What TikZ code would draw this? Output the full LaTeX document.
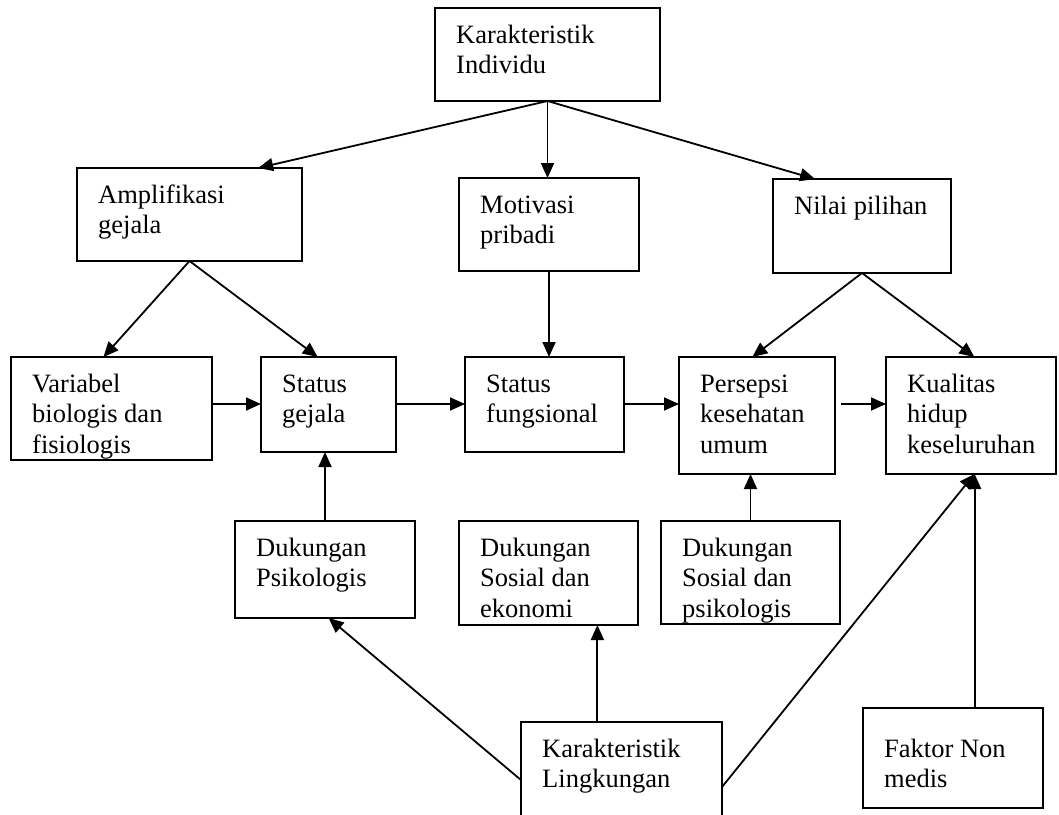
\documentclass[tikz,border=0pt]{standalone}
\usepackage{fontspec}
\setmainfont{Liberation Serif}
\usetikzlibrary{arrows.meta,calc,fit}
\newcommand\mkbox[7]{%
  \node[box,fit={(#2,#3)(#4,#5)}] (#1) {};
  \node[txt] (#1-t) at ($(#1.north west)+(21,#7)$) {\strut #6};}
\begin{document}
\begin{tikzpicture}[x=1pt,y=-1pt,
  box/.style={draw,line width=1.8pt,inner sep=0pt,outer sep=0pt,rectangle},
  txt/.style={anchor=north west,inner sep=0pt,align=left,font=\fontsize{26.5}{30.5}\selectfont},
  arr/.style={line width=1.8pt,-{Triangle[length=15pt,width=13pt]}}]
\useasboundingbox (0,0) rectangle (1059,814);
\mkbox{ki}{435}{8}{660}{101}{Karakteristik\\Individu}{13.6}
\mkbox{amp}{77}{168}{302}{261}{Amplifikasi\\gejala}{13.6}
\mkbox{mot}{459}{178}{639}{271}{Motivasi\\pribadi}{13.6}
\mkbox{nil}{773}{179}{951}{273}{Nilai pilihan}{13.6}
\mkbox{var}{11}{357}{212}{460}{Variabel\\biologis dan\\fisiologis}{13.6}
\mkbox{sg}{261}{357}{396}{452}{Status\\gejala}{13.6}
\mkbox{sf}{465}{357}{624}{452}{Status\\fungsional}{13.6}
\mkbox{per}{679}{357}{835}{474}{Persepsi\\kesehatan\\umum}{13.6}
\mkbox{kual}{886}{357}{1056}{474}{Kualitas\\hidup\\keseluruhan}{13.6}
\mkbox{dpsik}{235}{521}{415}{618}{Dukungan\\Psikologis}{13.6}
\mkbox{dse}{459}{521}{638}{625}{Dukungan\\Sosial dan\\ekonomi}{13.6}
\mkbox{dsp}{661}{521}{840}{624}{Dukungan\\Sosial dan\\psikologis}{13.6}
\mkbox{kl}{521}{722}{722}{840}{Karakteristik\\Lingkungan}{13.6}
\mkbox{fn}{863}{708}{1043}{808}{Faktor Non\\medis}{27.6}
\coordinate (hy) at (0,404);
% top fan
\draw[arr] (ki.south) -- ($(amp.north west)!0.805!(amp.north east)$);
\draw[arr] (ki.south) -- (ki.south |- mot.north);
\draw[arr] (ki.south) -- ($(nil.north west)!0.236!(nil.north east)$);
% second row fans
\draw[arr] (amp.south) -- ($(var.north west)!0.46!(var.north east)$);
\draw[arr] (amp.south) -- ($(sg.north west)!0.42!(sg.north east)$);
\draw[arr] (mot.south) -- (mot.south |- sf.north);
\draw[arr] (nil.south) -- ($(per.north west)!0.47!(per.north east)$);
\draw[arr] (nil.south) -- ($(kual.north west)!0.52!(kual.north east)$);
% horizontal chain
\draw[arr] (var.east |- hy) -- (sg.west |- hy);
\draw[arr] (sg.east |- hy) -- (sf.west |- hy);
\draw[arr] (sf.east |- hy) -- (per.west |- hy);
\draw[arr] ([xshift=6pt]per.east |- hy) -- (kual.west |- hy);
% supports
\draw[arr] (dpsik.north) -- (dpsik.north |- sg.south);
\draw[arr] (dsp.north) -- (dsp.north |- per.south);
% environment
\coordinate (klt) at ($(kl.north west)!0.38!(kl.north east)$);
\draw[arr] (klt) -- (klt |- dse.south);
\coordinate (kll) at ($(kl.north west)+(0,58)$);
\draw[arr] (kll) -- ($(dpsik.south west)!0.52!(dpsik.south east)$);
\coordinate (klr) at ($(kl.north east)+(0,65)$);
\coordinate (kualb) at ($(kual.south west)!0.52!(kual.south east)$);
\draw[arr] (klr) -- (kualb);
\coordinate (fnt) at ($(fn.north west)!0.62!(fn.north east)$);
\draw[arr] (fnt) -- (fnt |- kual.south);
\end{tikzpicture}
\end{document}
